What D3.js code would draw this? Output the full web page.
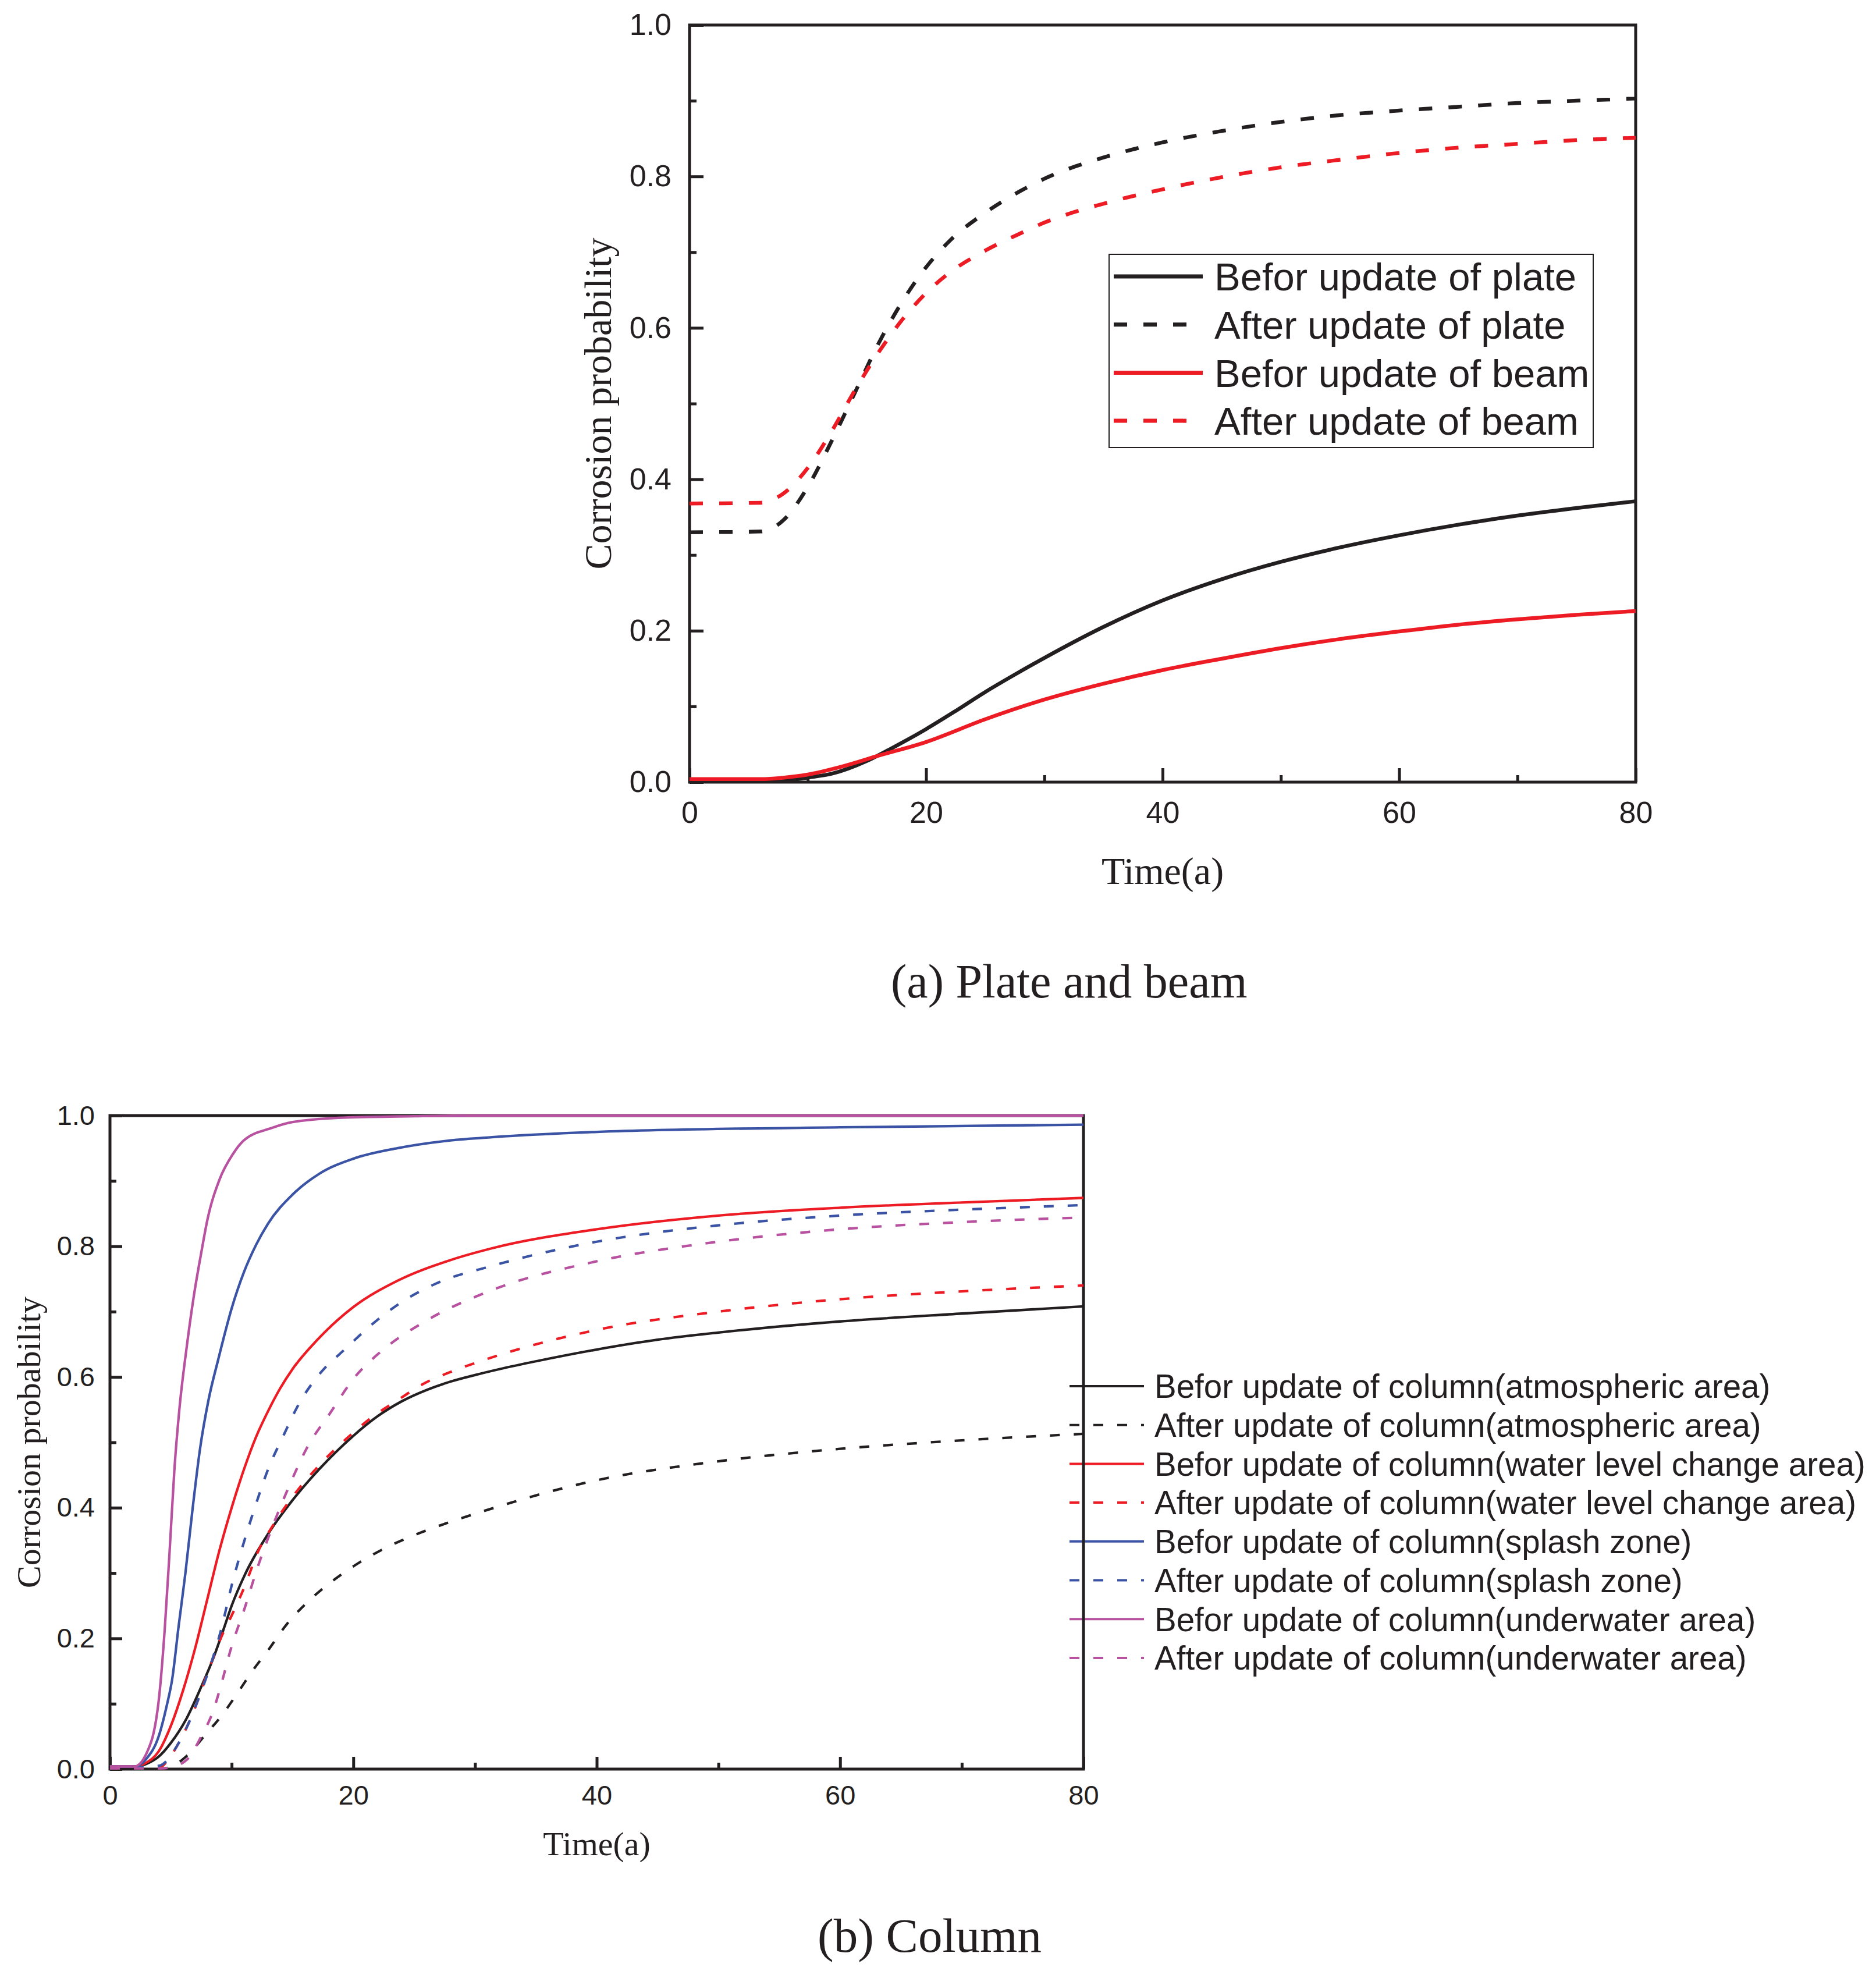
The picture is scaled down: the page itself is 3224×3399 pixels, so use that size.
<!DOCTYPE html>
<html><head><meta charset="utf-8">
<script src="https://cdn.jsdelivr.net/npm/d3@7"></script>
<style>html,body{margin:0;padding:0;background:#fff;} svg{display:block;}</style>
</head><body><svg id="c" width="3224" height="3399"></svg>
<script>
// ---------- tick labels ----------
const xTicks = [0, 20, 40, 60, 80];
const xMinor = [10, 30, 50, 70];
const yTicks = [0, 0.2, 0.4, 0.6, 0.8, 1.0];
const yMinor = [0.1, 0.3, 0.5, 0.7, 0.9];

// ---------- (a) plate and beam: [time, probability] ----------
const plateBefore = [[0,0.001],[5,0.001],[8,0.002],[10,0.006],[12,0.011],[15,0.028],[17,0.044],[20,0.07],[22.5,0.094],[25,0.119],[27.5,0.142],[30,0.164],[35,0.205],[40,0.24],[45,0.268],[50,0.291],[55,0.31],[60,0.326],[65,0.34],[70,0.352],[75,0.362],[80,0.371]];
const plateAfter  = [[0,0.33],[6,0.331],[8,0.347],[10,0.39],[12,0.45],[14,0.515],[16,0.58],[18,0.635],[20,0.68],[22,0.715],[25,0.752],[28,0.781],[30,0.797],[35,0.825],[40,0.845],[45,0.86],[50,0.872],[55,0.881],[60,0.887],[65,0.892],[70,0.897],[75,0.9],[80,0.903]];
const beamBefore  = [[0,0.004],[6,0.004],[8,0.006],[10,0.01],[13,0.021],[16,0.035],[20,0.053],[25,0.083],[30,0.109],[35,0.13],[40,0.148],[45,0.163],[50,0.177],[55,0.189],[60,0.199],[65,0.208],[70,0.215],[75,0.221],[80,0.226]];
const beamAfter   = [[0,0.368],[6,0.369],[8,0.382],[10,0.415],[12,0.463],[14,0.518],[16,0.568],[18,0.611],[20,0.646],[22,0.673],[25,0.702],[28,0.725],[30,0.739],[35,0.764],[40,0.783],[45,0.799],[50,0.812],[55,0.822],[60,0.831],[65,0.838],[70,0.843],[75,0.848],[80,0.851]];
const legendA = ["Befor update of plate","After update of plate","Befor update of beam","After update of beam"];

// ---------- (b) column ----------
const atmosBefore  = [[0,0.003],[2,0.003],[3,0.008],[4,0.019],[5,0.04],[6.25,0.076],[7.5,0.126],[8.5,0.17],[9.3,0.212],[10,0.25],[11.1,0.298],[13,0.36],[14.9,0.409],[17.2,0.459],[20,0.51],[22,0.54],[24,0.563],[26,0.58],[28,0.593],[30,0.603],[32,0.612],[35,0.624],[40,0.642],[45,0.657],[50,0.668],[60,0.685],[70,0.697],[80,0.708]];
const atmosAfter   = [[0,0.001],[4.5,0.001],[6.3,0.02],[7.9,0.054],[9.1,0.08],[10.4,0.114],[11.7,0.15],[13,0.182],[14.5,0.221],[16.2,0.255],[18.3,0.288],[20.4,0.315],[22.6,0.338],[25.7,0.363],[28.9,0.384],[30.4,0.393],[40,0.442],[50,0.471],[60,0.49],[70,0.503],[80,0.513]];
const waterBefore  = [[0,0.004],[2,0.004],[3,0.01],[4,0.027],[5,0.066],[6,0.12],[7,0.185],[8,0.26],[9,0.335],[10,0.4],[11,0.458],[12,0.508],[13,0.548],[14,0.583],[15,0.612],[17,0.656],[20,0.707],[23.6,0.747],[28,0.779],[31.4,0.797],[40,0.826],[50,0.847],[60,0.859],[70,0.867],[80,0.874]];
const waterAfter   = [[0,0.001],[4,0.002],[5,0.02],[5.65,0.04],[6.6,0.076],[7.4,0.114],[8,0.147],[8.6,0.176],[9.1,0.2],[10,0.235],[11.1,0.281],[12.1,0.33],[13.4,0.373],[15.1,0.419],[17.2,0.465],[19.4,0.505],[21.5,0.538],[23.6,0.564],[25.7,0.589],[27.9,0.607],[30.9,0.627],[40,0.672],[50,0.7],[60,0.719],[70,0.731],[80,0.74]];
const splashBefore = [[0,0.004],[2,0.004],[3,0.016],[4,0.05],[4.7,0.1],[5.1,0.136],[5.65,0.22],[6.2,0.3],[6.8,0.4],[7.4,0.49],[8.1,0.565],[8.9,0.627],[10,0.705],[11,0.76],[12,0.802],[13,0.835],[15,0.879],[17.2,0.911],[20,0.934],[23.6,0.95],[28,0.962],[31.4,0.967],[40,0.975],[60,0.982],[80,0.986]];
const splashAfter  = [[0,0.001],[4,0.005],[5.65,0.04],[6.6,0.076],[7.4,0.114],[8.1,0.15],[9.1,0.211],[10,0.281],[11.1,0.353],[11.9,0.4],[13,0.459],[14.3,0.512],[15.5,0.558],[17.2,0.604],[19.4,0.644],[21.5,0.68],[23.6,0.71],[26.8,0.743],[31.4,0.77],[40,0.807],[50,0.832],[60,0.847],[70,0.856],[80,0.863]];
const underBefore  = [[0,0.004],[2,0.004],[3,0.024],[4,0.104],[4.5,0.214],[4.9,0.333],[5.3,0.46],[5.7,0.55],[6.3,0.645],[6.9,0.725],[7.5,0.79],[8,0.84],[9,0.902],[10.1,0.941],[11,0.962],[13.3,0.981],[15,0.99],[19.4,0.997],[25,0.999],[30,1.0],[80,1.0]];
const underAfter   = [[0,0.001],[4.2,0.001],[5,0.003],[6.3,0.014],[7.5,0.05],[8.5,0.09],[9,0.12],[10,0.188],[11.1,0.248],[12.1,0.307],[13.4,0.373],[14.7,0.432],[16.2,0.492],[18.1,0.545],[20,0.597],[22.6,0.644],[25.7,0.683],[31.4,0.733],[40,0.777],[50,0.807],[60,0.826],[70,0.837],[80,0.844]];
const legendB = ["Befor update of column(atmospheric area)","After update of column(atmospheric area)",
  "Befor update of column(water level change area)","After update of column(water level change area)",
  "Befor update of column(splash zone)","After update of column(splash zone)",
  "Befor update of column(underwater area)","After update of column(underwater area)"];

const INK = "#231f20", RED = "#ed1c24", BLUE = "#3a53a4", PURPLE = "#b8519f";
const SANS = "'Liberation Sans', Arial, sans-serif";
const SERIF = "'Liberation Serif', 'Times New Roman', serif";

const svg = d3.select("#c");

function panel(o) {
  const x = d3.scaleLinear().domain([0, 80]).range([o.left, o.right]);
  const y = d3.scaleLinear().domain([0, 1]).range([o.bottom, o.top]);
  const g = svg.append("g");

  // legend (drawn below frame)
  const lg = g.append("g");
  if (o.legendBox) {
    lg.append("rect").attr("x", o.legendBox[0]).attr("y", o.legendBox[1])
      .attr("width", o.legendBox[2] - o.legendBox[0]).attr("height", o.legendBox[3] - o.legendBox[1])
      .attr("fill", "#fff").attr("stroke", INK).attr("stroke-width", 2);
  }
  o.series.forEach((s, i) => {
    const yy = o.legY0 + i * o.legDY;
    lg.append("line").attr("x1", o.legX1).attr("x2", o.legX2).attr("y1", yy).attr("y2", yy)
      .attr("stroke", s.color).attr("stroke-width", o.legW)
      .attr("stroke-dasharray", s.dashed ? o.dash : null);
    lg.append("text").attr("x", o.legTX).attr("y", yy).attr("dy", "0.36em")
      .attr("fill", INK).style("font-family", SANS).style("font-size", o.legFs + "px")
      .text(o.labels[i]);
  });

  // frame
  g.append("rect").attr("x", o.left).attr("y", o.top)
    .attr("width", o.right - o.left).attr("height", o.bottom - o.top)
    .attr("fill", "none").attr("stroke", INK).attr("stroke-width", o.frameW);

  function style(ax) {
    ax.select(".domain").remove();
    ax.selectAll("line").attr("stroke", INK).attr("stroke-width", o.frameW);
    ax.selectAll("text").attr("fill", INK).style("font-family", SANS).style("font-size", o.tickFs + "px");
  }
  style(g.append("g").attr("transform", `translate(0,${o.bottom})`)
    .call(d3.axisBottom(x).tickValues(xTicks).tickFormat(d3.format("d")).tickSize(-o.major).tickSizeOuter(0).tickPadding(o.padX)));
  style(g.append("g").attr("transform", `translate(0,${o.bottom})`)
    .call(d3.axisBottom(x).tickValues(xMinor).tickFormat("").tickSize(-o.minor).tickSizeOuter(0)));
  style(g.append("g").attr("transform", `translate(${o.left},0)`)
    .call(d3.axisLeft(y).tickValues(yTicks).tickFormat(d3.format(".1f")).tickSize(-o.major).tickSizeOuter(0).tickPadding(o.padY)));
  style(g.append("g").attr("transform", `translate(${o.left},0)`)
    .call(d3.axisLeft(y).tickValues(yMinor).tickFormat("").tickSize(-o.minor).tickSizeOuter(0)));

  // curves
  const line = d3.line().x(d => x(d[0])).y(d => y(d[1])).curve(d3.curveMonotoneX);
  o.series.forEach(s => {
    g.append("path").attr("d", line(s.data)).attr("fill", "none")
      .attr("stroke", s.color).attr("stroke-width", o.lineW)
      .attr("stroke-linejoin", "round")
      .attr("stroke-dasharray", s.dashed ? o.dash : null);
  });

  // titles
  g.append("text").attr("transform", `translate(${o.yTitleX},${(o.top + o.bottom) / 2}) rotate(-90)`)
    .attr("text-anchor", "middle").attr("fill", INK)
    .style("font-family", SERIF).style("font-size", o.titleFs + "px").text("Corrosion probability");
  g.append("text").attr("x", (o.left + o.right) / 2).attr("y", o.xTitleY)
    .attr("text-anchor", "middle").attr("fill", INK)
    .style("font-family", SERIF).style("font-size", o.titleFs + "px").text("Time(a)");
  g.append("text").attr("x", o.capX).attr("y", o.capY).attr("fill", INK)
    .style("font-family", SERIF).style("font-size", o.capFs + "px").text(o.caption);
}

panel({
  left: 1185, right: 2811, top: 43, bottom: 1344,
  frameW: 5, major: 24, minor: 12, tickFs: 52, padX: 33, padY: 31,
  lineW: 6.5, dash: "23,28",
  series: [
    {data: plateBefore, color: INK, dashed: false},
    {data: plateAfter, color: INK, dashed: true},
    {data: beamBefore, color: RED, dashed: false},
    {data: beamAfter, color: RED, dashed: true}
  ],
  labels: legendA,
  legendBox: [1906, 437, 2738, 769],
  legY0: 475, legDY: 82.7, legX1: 1914, legX2: 2067, legTX: 2087, legFs: 67, legW: 7,
  yTitleX: 1050, xTitleY: 1519, titleFs: 66,
  capX: 1531, capY: 1714, capFs: 82, caption: "(a) Plate and beam"
});

panel({
  left: 189, right: 1862, top: 1917, bottom: 3040,
  frameW: 5, major: 21, minor: 11, tickFs: 47, padX: 28, padY: 26,
  lineW: 4.3, dash: "17,24",
  series: [
    {data: atmosBefore, color: INK, dashed: false},
    {data: atmosAfter, color: INK, dashed: true},
    {data: waterBefore, color: RED, dashed: false},
    {data: waterAfter, color: RED, dashed: true},
    {data: splashBefore, color: BLUE, dashed: false},
    {data: splashAfter, color: BLUE, dashed: true},
    {data: underBefore, color: PURPLE, dashed: false},
    {data: underAfter, color: PURPLE, dashed: true}
  ],
  labels: legendB,
  legendBox: null,
  legY0: 2382, legDY: 66.7, legX1: 1838, legX2: 1966, legTX: 1984, legFs: 56.5, legW: 4,
  yTitleX: 69, xTitleY: 3188, titleFs: 58,
  capX: 1405, capY: 3354, capFs: 83, caption: "(b) Column"
});
</script>
</body></html>
